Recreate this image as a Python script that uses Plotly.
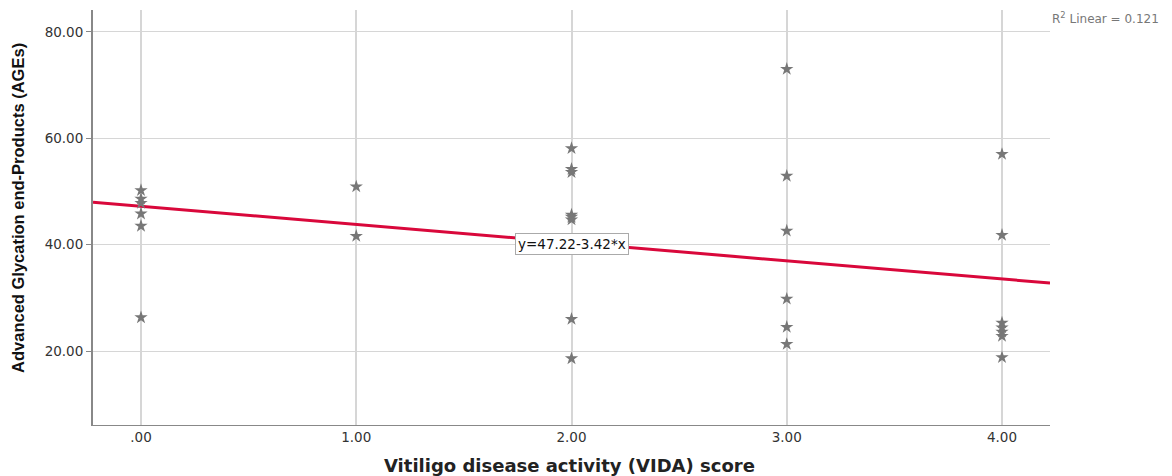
import plotly.graph_objects as go

vida_x = [0, 0, 0, 0, 0, 0,
          1, 1,
          2, 2, 2, 2, 2, 2, 2, 2,
          3, 3, 3, 3, 3, 3,
          4, 4, 4, 4, 4, 4, 4]
ages_y = [50.2, 48.6, 47.8, 45.8, 43.5, 26.3,
          50.9, 41.6,
          58.1, 54.2, 53.6, 45.6, 45.2, 44.7, 26.0, 18.6,
          73.0, 52.9, 42.6, 29.8, 24.5, 21.3,
          57.0, 41.8, 25.3, 24.4, 23.6, 22.8, 18.8]
intercept = 47.22
slope = -3.42
x_range = [-0.223, 4.223]
y_range = [6.1, 84.1]
x_ticks = [0, 1, 2, 3, 4]
x_ticklabels = [".00", "1.00", "2.00", "3.00", "4.00"]
y_ticks = [20, 40, 60, 80]
y_ticklabels = ["20.00", "40.00", "60.00", "80.00"]

WIDE = "DejaVu Sans, Verdana, sans-serif"

fig = go.Figure()
fig.add_trace(go.Scatter(
    x=x_range, y=[intercept + slope * v for v in x_range],
    mode="lines", line=dict(color="#d9083b", width=3), hoverinfo="skip"))
fig.add_trace(go.Scatter(
    x=vida_x, y=ages_y, mode="markers",
    marker=dict(symbol="star", size=10, color="#777777", line=dict(width=0))))

fig.add_annotation(x=2.0, y=40.1, text="y=47.22-3.42*x", showarrow=False,
                   font=dict(family=WIDE, size=13.5, color="#111"),
                   bgcolor="white", bordercolor="#aaaaaa", borderwidth=1, borderpad=2)
fig.add_annotation(xref="paper", yref="paper", x=1.0, y=0.98, xanchor="left", yanchor="middle",
                   text="R<sup>2</sup> Linear = 0.121", showarrow=False,
                   font=dict(family=WIDE, size=12, color="#777777"))
fig.add_annotation(xref="paper", yref="paper", x=0.498, y=-0.0964, xanchor="center", yanchor="middle",
                   text="<b>Vitiligo disease activity (VIDA) score</b>", showarrow=False,
                   font=dict(family=WIDE, size=18, color="#222"))
fig.add_annotation(xref="paper", yref="paper", x=-0.0784, y=0.523, xanchor="center", yanchor="middle",
                   textangle=-90, text="<b>Advanced Glycation end-Products (AGEs)</b>", showarrow=False,
                   font=dict(family="Liberation Sans Narrow, Arial Narrow, Liberation Sans", size=16.5, color="#111"))

fig.update_layout(
    width=1172, height=476,
    margin=dict(l=93, r=122, t=10, b=51, autoexpand=False),
    plot_bgcolor="white", paper_bgcolor="white",
    showlegend=False,
    font=dict(family=WIDE, size=13.5, color="#333"),
    xaxis=dict(range=x_range, tickvals=x_ticks, ticktext=x_ticklabels,
               showgrid=True, gridcolor="#d6d6d6", gridwidth=2,
               showline=True, linecolor="#888888", linewidth=1,
               ticks="", zeroline=False, automargin=False),
    yaxis=dict(range=y_range, tickvals=y_ticks, ticktext=y_ticklabels,
               showgrid=True, gridcolor="#d6d6d6", gridwidth=1,
               showline=True, linecolor="#888888", linewidth=2,
               ticks="outside", ticklen=5, tickcolor="#888888", zeroline=False,
               automargin=False),
)
fig.write_html("out.html", post_script="document.body.style.margin='0';",
               config={"displayModeBar": False})
